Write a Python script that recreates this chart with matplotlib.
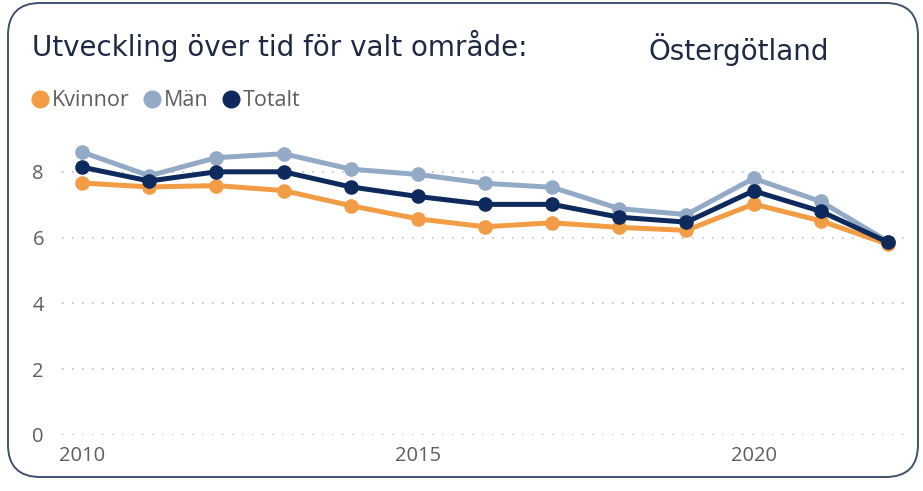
import matplotlib
matplotlib.use("Agg")
import matplotlib.pyplot as plt
from matplotlib.patches import FancyBboxPatch
from matplotlib.lines import Line2D

years = [2010, 2011, 2012, 2013, 2014, 2015, 2016, 2017, 2018, 2019, 2020, 2021, 2022]
kvinnor = [7.66, 7.54, 7.58, 7.43, 6.97, 6.57, 6.33, 6.45, 6.31, 6.22, 7.02, 6.51, 5.80]
man = [8.60, 7.88, 8.43, 8.55, 8.08, 7.92, 7.65, 7.53, 6.88, 6.70, 7.80, 7.10, 5.88]
totalt = [8.14, 7.72, 8.00, 8.00, 7.54, 7.25, 7.01, 7.01, 6.62, 6.47, 7.42, 6.80, 5.86]
yticks = [0, 2, 4, 6, 8]
xticks = [2010, 2015, 2020]
series_names = ["Kvinnor", "Män", "Totalt"]
title_text = "Utveckling över tid för valt område:"
region_text = "Östergötland"

c_k = "#F29D45"
c_m = "#93AAC7"
c_t = "#0E2A5C"
grey = "#605E5C"
title_col = "#1E2A44"

plt.rcParams['font.family'] = ['Open Sans', 'DejaVu Sans']
plt.rcParams['lines.scale_dashes'] = False

W, H = 923, 491
fig = plt.figure(figsize=(W / 100, H / 100), dpi=100)
fig.patch.set_facecolor("white")

# rounded border
border = FancyBboxPatch((8 / W, 14 / H), (918 - 8) / W, (488 - 14) / H,
                        boxstyle="round,pad=0,rounding_size=0.035",
                        transform=fig.transFigure, facecolor="none",
                        edgecolor="#3F526E", linewidth=1.4,
                        mutation_aspect=W / H)
fig.patches.append(border)

x0, x1 = 62, 910
ytop_val = 9.2
px_per_unit = 32.9
y0_px = 435
ax = fig.add_axes([x0 / W, (H - y0_px) / H, (x1 - x0) / W, ytop_val * px_per_unit / H])
ax.set_xlim(2009.70, 2022.33)
ax.set_ylim(0, ytop_val)

for vals, col, z in [(man, c_m, 2), (kvinnor, c_k, 3), (totalt, c_t, 4)]:
    ax.plot(years, vals, color=col, lw=3.6, marker="o", markersize=9.5,
            zorder=z, solid_capstyle="round")

ax.set_yticks(yticks)
ax.set_xticks(xticks)
ax.yaxis.grid(True, color="#C4C4C4", linestyle=(0, (1.2, 6.0)), linewidth=1.3)
ax.xaxis.grid(False)
ax.set_axisbelow(True)
for s in ax.spines.values():
    s.set_visible(False)
ax.tick_params(axis="both", length=0, labelsize=14.5, labelcolor=grey)
ax.tick_params(axis="y", pad=13)
ax.tick_params(axis="x", pad=8)

fig.text(32 / W, 1 - 56 / H, title_text, fontsize=20, color=title_col,
         family=['DejaVu Sans'], va="baseline")
fig.text(648 / W, 1 - 60 / H, region_text, fontsize=20, color=title_col,
         family=['DejaVu Sans'], va="baseline")

handles = [Line2D([], [], color=c, marker="o", linestyle="none", markersize=12)
           for c in (c_k, c_m, c_t)]
fig.legend(handles, series_names, loc="center left",
           bbox_to_anchor=(32 / W, 1 - 101 / H), ncol=3, frameon=False,
           fontsize=15.5, labelcolor=grey, handlelength=0.7, handletextpad=0.2,
           columnspacing=0.7, borderpad=0, borderaxespad=0)

fig.savefig("out.png", dpi=100)
